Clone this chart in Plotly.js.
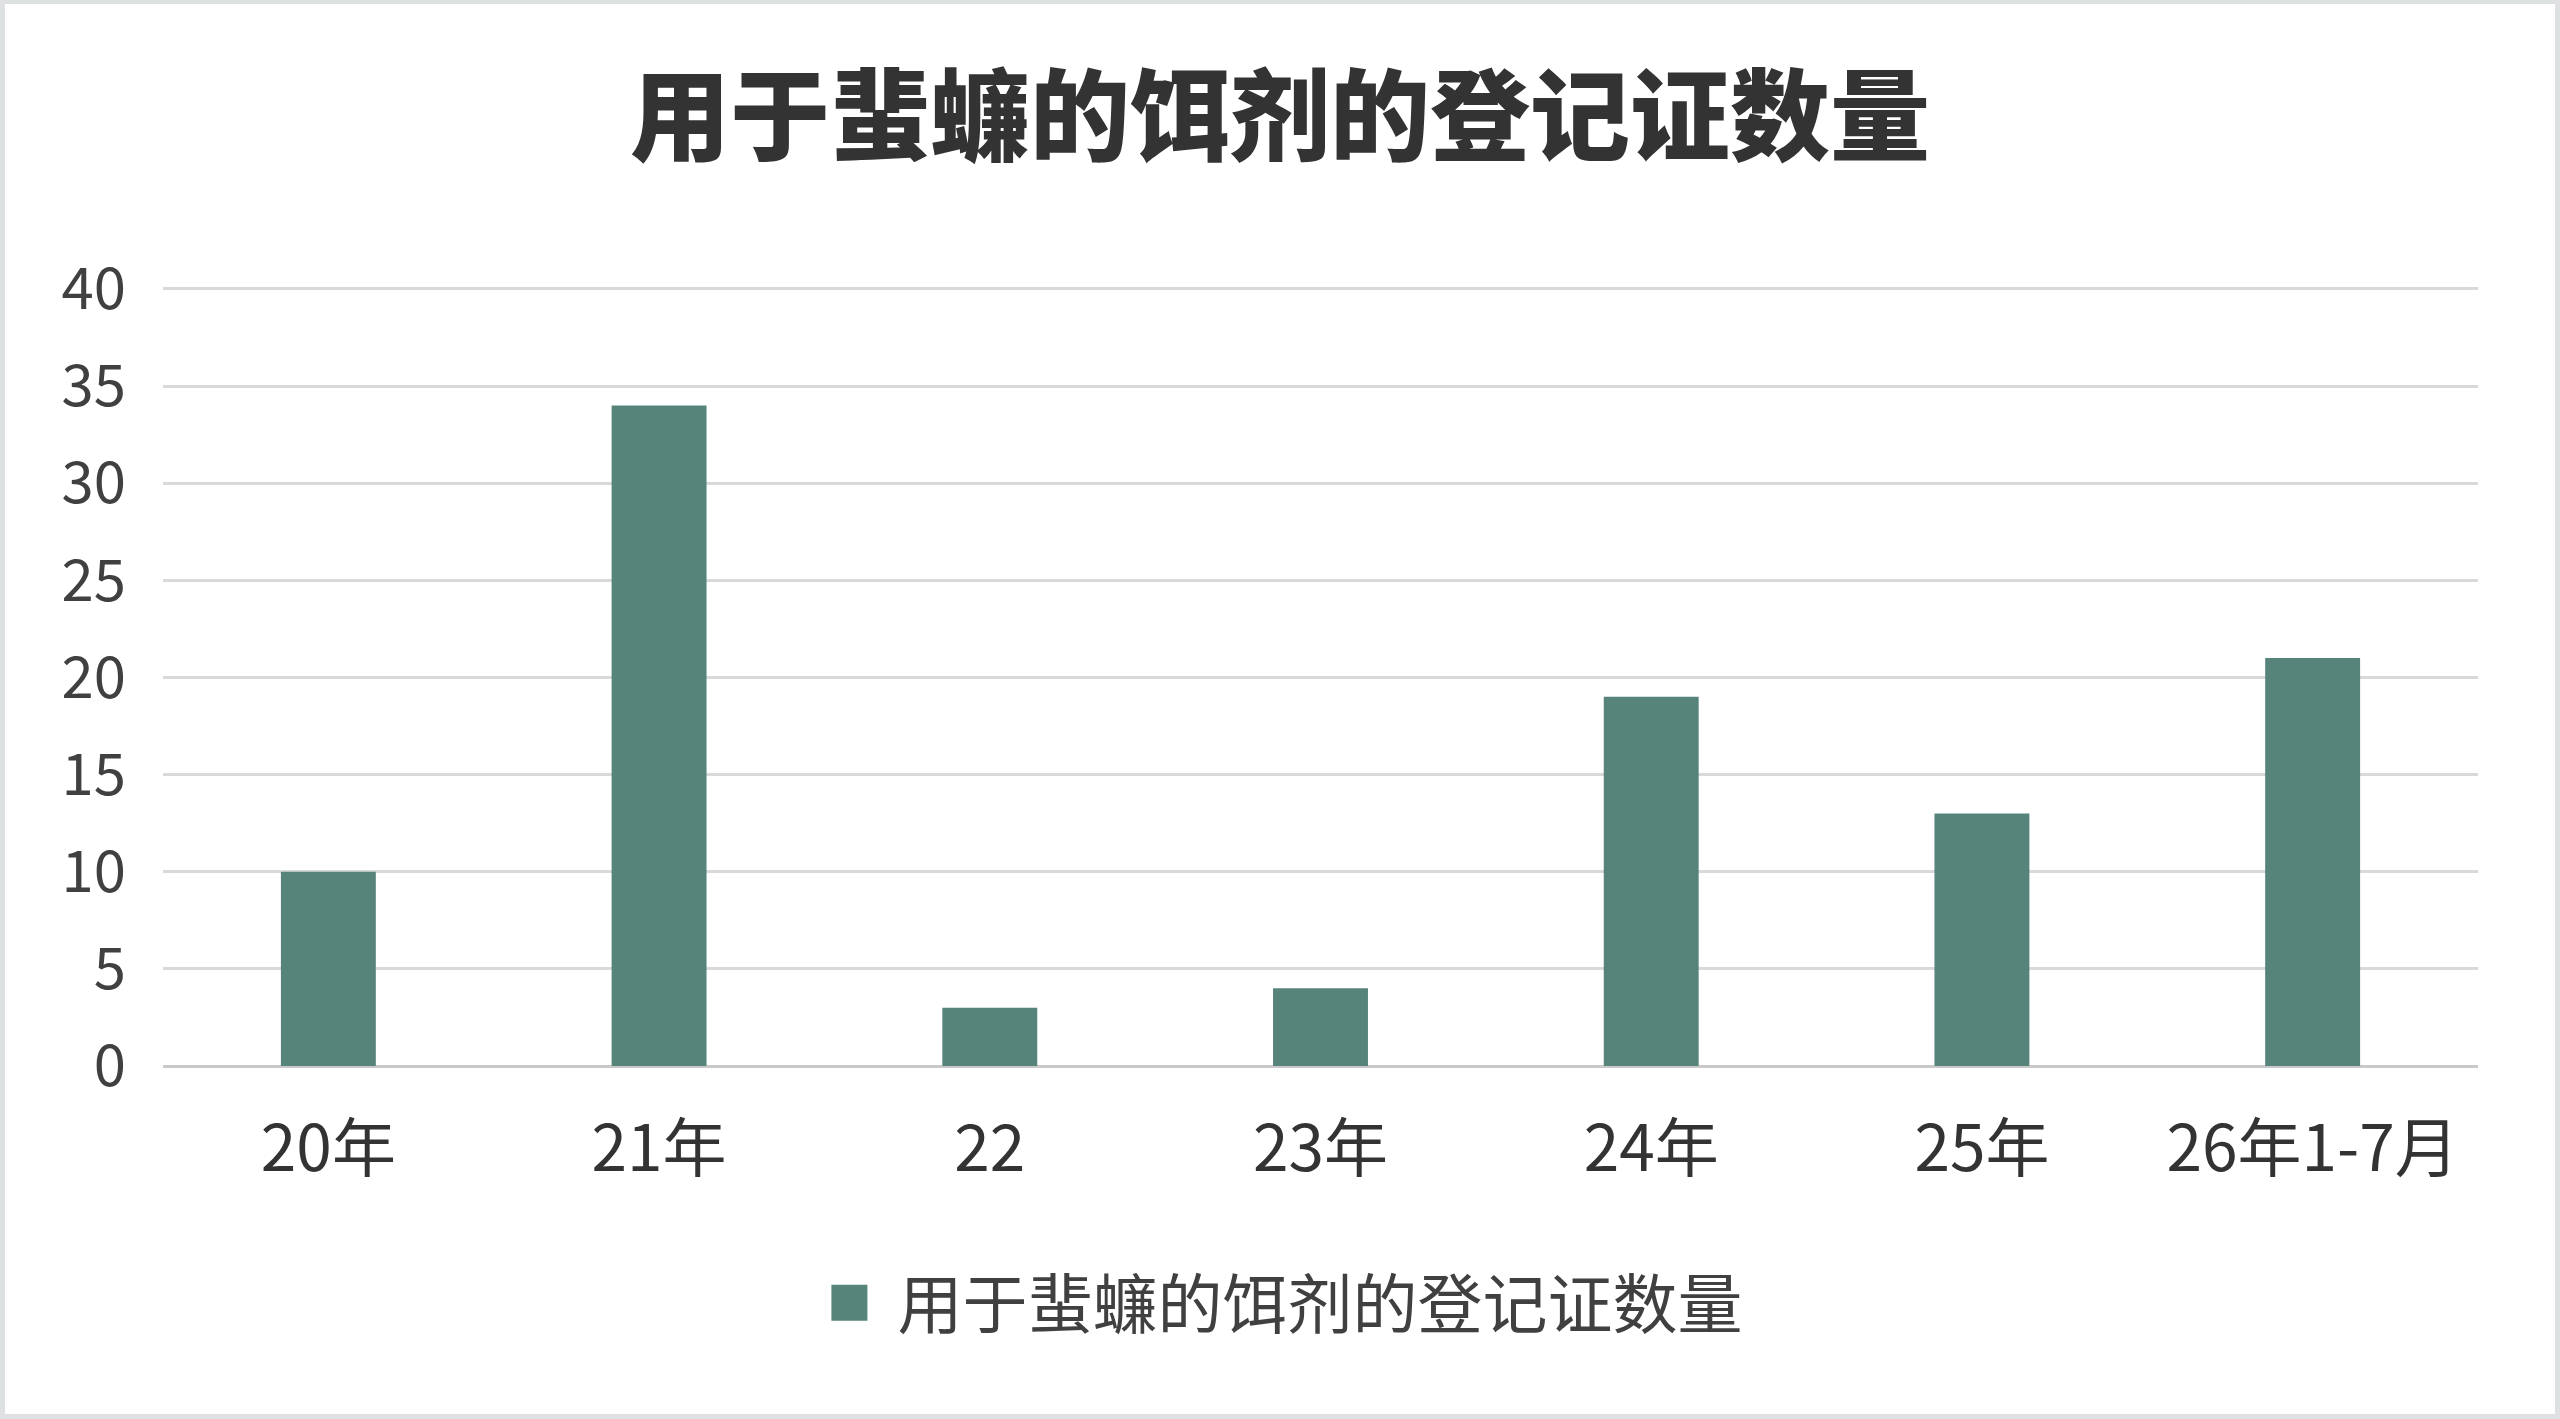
<!DOCTYPE html>
<html>
<head>
<meta charset="utf-8">
<script src="https://cdn.plot.ly/plotly-3.0.1.min.js"></script>
<style>
  html, body { margin: 0; padding: 0; background: #dde1e2; }
  #chart { position: absolute; left: 5px; top: 4px; width: 2550px; height: 1410px; background: #ffffff; }
</style>
</head>
<body>
<div id="chart"></div>
<script>
  // data

  var categories = ['20年', '21年', '22', '23年', '24年', '25年', '26年1-7月'];
  var counts = [10, 34, 3, 4, 19, 13, 21];
  var yTicks = [0, 5, 10, 15, 20, 25, 30, 35, 40];
  var seriesName = '用于蜚蠊的饵剂的登记证数量';
  var chartTitle = '用于蜚蠊的饵剂的登记证数量';

  var cjk = '"Noto Sans CJK SC", "Noto Sans", sans-serif';

  var traceBar = {
    x: categories,
    y: counts,
    type: 'bar',
    name: seriesName,
    marker: { color: '#56837a' },
    hoverinfo: 'x+y',
  };

  var layout = {
    width: 2550,
    height: 1410,
    paper_bgcolor: '#ffffff',
    plot_bgcolor: '#ffffff',
    margin: { l: 158, r: 77, t: 281, b: 348 },
    bargap: 0.713,
    title: {
      text: chartTitle,
      font: { family: cjk, size: 100, color: '#333333', weight: 900 },
      x: 0.5,
      xanchor: 'center',
      y: 1 - 114 / 1410,
      yanchor: 'middle',
      yref: 'container',
    },
    xaxis: {
      type: 'category',
      showgrid: false,
      showline: false,
      ticks: '',
      ticklabelstandoff: 40,
      tickfont: { family: cjk, size: 64, color: '#333333' },
    },
    yaxis: {
      range: [0, 40.2],
      tickvals: yTicks,
      showline: false,
      ticks: '',
      gridcolor: '#d9d9d9',
      gridwidth: 3,
      zeroline: true,
      zerolinecolor: '#c9c9c9',
      zerolinewidth: 3,
      ticklabelstandoff: 36,
      tickfont: { family: cjk, size: 58, color: '#404040' },
    },
    showlegend: true,
    legend: {
      orientation: 'h',
      xref: 'container',
      x: 0.5031,
      xanchor: 'center',
      yref: 'container',
      y: 1 - 1299 / 1410,
      yanchor: 'middle',
      itemwidth: 60,
      font: { family: cjk, size: 65, color: '#404040' },
    },
  };

  Plotly.newPlot('chart', [traceBar], layout, { displayModeBar: false, staticPlot: true }).then(function () {
    // enlarge the legend swatch to match the reference square
    document.querySelectorAll('#chart .legendpoints path').forEach(function (p) {
      p.setAttribute('d', 'M5,18H-31V-18H5Z');
    });
  });
</script>
</body>
</html>
